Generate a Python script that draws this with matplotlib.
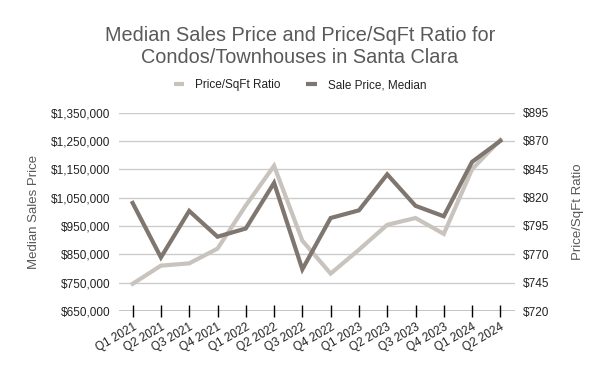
import matplotlib.pyplot as plt
from matplotlib.lines import Line2D
from matplotlib.ticker import FuncFormatter

plt.rcParams["font.family"] = ["Liberation Sans", "DejaVu Sans"]

quarters = ["Q1 2021", "Q2 2021", "Q3 2021", "Q4 2021", "Q1 2022", "Q2 2022", "Q3 2022",
            "Q4 2022", "Q1 2023", "Q2 2023", "Q3 2023", "Q4 2023", "Q1 2024", "Q2 2024"]
sale_price = [1031000, 839000, 1003000, 912000, 941000, 1102000, 797000,
              978000, 1005000, 1132000, 1021000, 984000, 1176000, 1250000]
price_sqft = [744, 760, 762, 775, 813, 848, 782,
              753, 774, 796, 802, 788, 845, 871]

LIGHT = "#c9c3be"
DARK = "#7e766f"
TXT = "#595959"

fig = plt.figure(figsize=(6, 3.71), dpi=100)
ax = fig.add_axes([0.1975, 0.1617, 0.66, 0.535])
ax2 = ax.twinx()

x = list(range(len(quarters)))
ax2.plot(x, price_sqft, color=LIGHT, lw=3, solid_joinstyle="miter")
ax.plot(x, sale_price, color=DARK, lw=3, solid_joinstyle="miter")

# dark line sits above the light one
ax.set_zorder(ax2.get_zorder() + 1)
ax.patch.set_visible(False)

ax.set_xlim(-0.5, len(quarters) - 0.5)
ax.set_ylim(650000, 1350000)
ax.set_yticks(range(650000, 1350001, 100000))
ax.yaxis.set_major_formatter(FuncFormatter(lambda v, p: f"${v:,.0f}"))
ax2.set_ylim(720, 895)
ax2.set_yticks(range(720, 896, 25))
ax2.yaxis.set_major_formatter(FuncFormatter(lambda v, p: f"${v:.0f}"))
ax2.grid(axis="y", color="#cccccc", lw=1)
ax2.set_axisbelow(True)

for a in (ax, ax2):
    for s in ("top", "left", "right", "bottom"):
        a.spines[s].set_visible(False)
    a.tick_params(axis="y", length=0, labelsize=8.5, labelcolor="#222222", pad=6)

ax.axhline(650000, color="black", lw=1, zorder=5)
ax.set_xticks(x)
ax.set_xticklabels(quarters, rotation=30, ha="right", rotation_mode="anchor")
ax.tick_params(axis="x", direction="inout", length=9, width=1, labelsize=8.5,
               labelcolor="#222222", pad=3)
ax2.tick_params(axis="x", length=0)

ax.set_ylabel("Median Sales Price", color=TXT, fontsize=9.5, labelpad=8)
ax2.set_ylabel("Price/SqFt Ratio", color=TXT, fontsize=9.5, labelpad=16)

fig.text(0.5, 0.876, "Median Sales Price and Price/SqFt Ratio for\nCondos/Townhouses in Santa Clara",
         ha="center", va="center", fontsize=14.3, color=TXT, linespacing=1.2)

handles = [Line2D([], [], color=LIGHT, lw=3, solid_capstyle="butt"),
           Line2D([], [], color=DARK, lw=3, solid_capstyle="butt")]
fig.legend(handles, ["Price/SqFt Ratio", "Sale Price, Median"], loc="center",
           bbox_to_anchor=(0.5, 0.77), ncol=2, frameon=False, fontsize=8.5,
           handlelength=0.9, columnspacing=2.2, handletextpad=0.9, labelcolor="#222222")

fig.savefig("out.png", dpi=100)
